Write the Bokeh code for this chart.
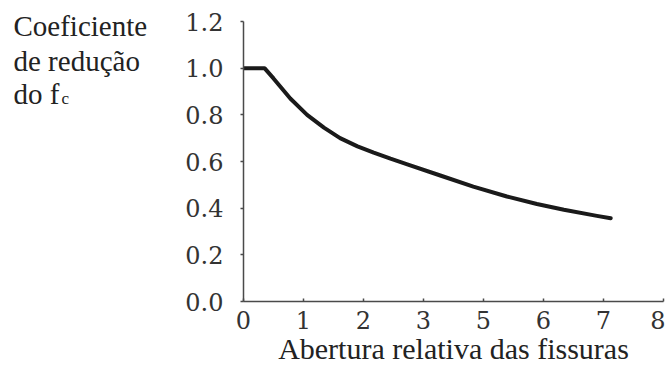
from bokeh.plotting import figure
from bokeh.models import Range1d, FixedTicker, Label
from bokeh.layouts import row
from bokeh.embed import file_html
from bokeh.resources import INLINE

# Curve (x in axis-position units; tick labels below)
crack_x = [0.0, 0.35, 0.50, 0.78, 1.06, 1.34, 1.61, 1.90, 2.17, 2.45, 2.73, 3.28, 3.83, 4.39, 4.89, 5.34, 5.89, 6.12]
reduction = [1.0, 1.0, 0.956, 0.870, 0.800, 0.745, 0.700, 0.665, 0.638, 0.612, 0.588, 0.540, 0.492, 0.450, 0.418, 0.393, 0.367, 0.357]

x_tick_pos = [0, 1, 2, 3, 4, 5, 6, 7]
x_tick_labels = ["0", "1", "2", "3", "5", "6", "7", "8"]
y_tick_pos = [0.0, 0.2, 0.4, 0.6, 0.8, 1.0, 1.2]
y_tick_labels = ["0.0", "0.2", "0.4", "0.6", "0.8", "1.0", "1.2"]

x_title = "Abertura relativa das fissuras"
y_title_lines = ["Coeficiente", "de redução", "do f"]
y_title_sub = "c"

serif_tick = "DejaVu Serif"
serif_text = "Liberation Serif"

LEFT_W = 150
FRAME_H = 301          # frame reaches the top of the canvas; axis drawn only 0..1.2
Y_TOP = 1.29
BOTTOM = 66

p = figure(frame_width=420, frame_height=FRAME_H, output_backend="svg", toolbar_location=None,
           x_range=Range1d(0, 7), y_range=Range1d(0, Y_TOP),
           min_border_left=243 - LEFT_W, min_border_right=2, min_border_top=0, min_border_bottom=BOTTOM)
p.title.visible = False
p.outline_line_color = None
p.grid.visible = False
p.background_fill_color = "white"
p.border_fill_color = "white"

p.line(crack_x, reduction, line_width=4, line_color="#1a1a1a", line_join="round", line_cap="round")

p.xaxis.ticker = FixedTicker(ticks=x_tick_pos)
p.xaxis.major_label_overrides = {t: l for t, l in zip(x_tick_pos, x_tick_labels)}
p.yaxis.ticker = FixedTicker(ticks=y_tick_pos)
p.yaxis.major_label_overrides = {t: l for t, l in zip(y_tick_pos, y_tick_labels)}
p.yaxis.bounds = (0, 1.2)

for ax in (p.xaxis, p.yaxis):
    ax.axis_line_color = "#4a4a4a"
    ax.axis_line_width = 1.5
    ax.major_tick_line_color = "#4a4a4a"
    ax.major_tick_line_width = 1.5
    ax.minor_tick_line_color = None
    ax.major_label_text_font = serif_tick
    ax.major_label_text_font_size = "24px"
    ax.major_label_text_color = "#333333"

p.xaxis.major_tick_in = 3
p.xaxis.major_tick_out = 0
p.yaxis.major_tick_in = 0
p.yaxis.major_tick_out = 3
p.xaxis.major_label_standoff = 9
p.yaxis.major_label_standoff = 17

p.xaxis.axis_label = x_title
p.xaxis.axis_label_text_font = serif_text
p.xaxis.axis_label_text_font_size = "30px"
p.xaxis.axis_label_text_font_style = "normal"
p.xaxis.axis_label_text_color = "#222222"
p.xaxis.axis_label_standoff = 0

# Left panel holding the y title block; same vertical frame geometry and y range as p
t = figure(frame_width=LEFT_W, frame_height=FRAME_H, output_backend="svg", toolbar_location=None,
           x_axis_type=None, y_axis_type=None, x_range=Range1d(0, LEFT_W), y_range=Range1d(0, Y_TOP),
           min_border_left=0, min_border_right=0, min_border_top=0, min_border_bottom=BOTTOM)
t.title.visible = False
t.outline_line_color = None
t.grid.visible = False
t.background_fill_color = "white"
t.border_fill_color = "white"

line_y = [1.182, 1.031, 0.889]
for txt, yy in zip(y_title_lines, line_y):
    t.add_layout(Label(x=13, y=yy, text=txt, text_font=serif_text, text_font_size="29px",
                       text_color="#222222", text_baseline="alphabetic"))
t.add_layout(Label(x=61, y=0.872, text=y_title_sub, text_font=serif_text, text_font_size="17px",
                   text_color="#222222", text_baseline="alphabetic"))

layout = row(t, p, spacing=0)
open("out.html", "w").write(file_html(layout, INLINE))
